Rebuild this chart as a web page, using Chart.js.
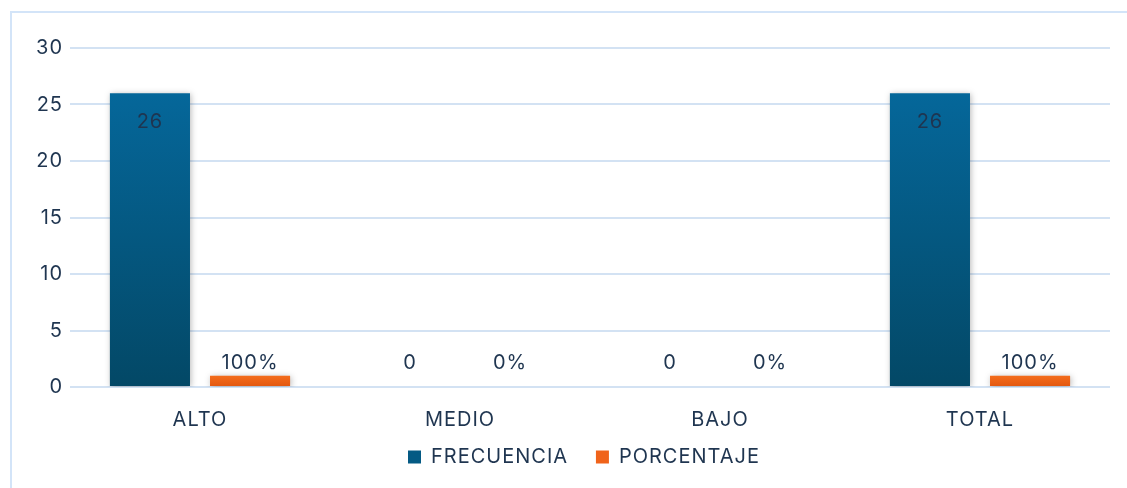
<!DOCTYPE html>
<html>
<head>
<meta charset="utf-8">
<script src="https://cdn.jsdelivr.net/npm/chart.js@4.4.1/dist/chart.umd.min.js"></script>
<style>
    html, body { margin: 0; padding: 0; background: #fff; overflow: hidden; }
    .frame {
        position: absolute; left: 10px; top: 11px; width: 2000px; height: 2000px;
        border-left: 2px solid #d3e4f8; border-top: 2px solid #d3e4f8;
    }
    .wrap { position: absolute; left: 0; top: 0; width: 1127px; height: 488px; }
</style>
</head>
<body>
<div class="frame"></div>
<div class="wrap"><canvas id="chart"></canvas></div>
<script>
    // Data
    const categories = ['ALTO', 'MEDIO', 'BAJO', 'TOTAL'];
    const frecuencia = [26, 0, 0, 26];
    const porcentaje = [1, 0, 0, 1]; // 100% = 1
    const yTicks = [0, 5, 10, 15, 20, 25, 30];

    const textColor = '#1f3550';
    const fontFamily = 'Inter, "Open Sans", Roboto, sans-serif';
    const fontSize = 20;

    // Vertical gradient for each bar, from bar top to baseline
    function barGradient(top, bottom) {
        return function(ctx) {
            const chart = ctx.chart;
            if (!chart.chartArea || ctx.type !== 'data') return top;
            const y = chart.scales.y;
            const y0 = y.getPixelForValue(0);
            const y1 = y.getPixelForValue(ctx.raw);
            if (Math.abs(y0 - y1) < 1) return top;
            const g = chart.ctx.createLinearGradient(0, y1, 0, y0);
            g.addColorStop(0, top);
            g.addColorStop(1, bottom);
            return g;
        };
    }

    // Wider text, closer to the original font
    const spacingPlugin = {
        id: 'letterSpacing',
        beforeUpdate(chart) { chart.ctx.letterSpacing = '1px'; },
        beforeDraw(chart) { chart.ctx.letterSpacing = '1px'; }
    };

    // The original chart box is wider than the window: centre the legend on it
    const legendPlace = {
        id: 'legendPlace',
        afterLayout(chart) {
            const lg = chart.legend;
            if (!lg) return;
            lg.left += 29;
            lg.right += 29;
            lg.top += 2;
            lg.bottom += 2;
        }
    };

    // Light shadow under the bars
    const shadowPlugin = {
        id: 'barShadow',
        beforeDatasetsDraw(chart) {
            const c = chart.ctx;
            c.save();
            c.shadowColor = 'rgba(0, 0, 0, 0.28)';
            c.shadowBlur = 6;
            c.shadowOffsetX = 1;
            c.shadowOffsetY = 1;
        },
        afterDatasetsDraw(chart) {
            chart.ctx.restore();
        }
    };

    // Value labels (inside top for tall bars, above for short ones)
    const labelPlugin = {
        id: 'valueLabels',
        afterDatasetsDraw(chart) {
            const c = chart.ctx;
            const base = chart.scales.y.getPixelForValue(0);
            c.save();
            c.font = fontSize + 'px ' + fontFamily;
            c.fillStyle = textColor;
            c.textAlign = 'center';
            c.textBaseline = 'middle';
            chart.data.datasets.forEach((ds, i) => {
                chart.getDatasetMeta(i).data.forEach((bar, j) => {
                    const v = ds.data[j];
                    const text = i === 1 ? Math.round(v * 100) + '%' : String(v);
                    let y;
                    if (base - bar.y > 40) {
                        y = bar.y + 29;
                    } else {
                        y = Math.min(bar.y - 13, base - 24);
                    }
                    c.fillText(text, bar.x, y);
                });
            });
            c.restore();
        }
    };

    new Chart(document.getElementById('chart'), {
        type: 'bar',
        data: {
            labels: categories,
            datasets: [
                {
                    label: 'FRECUENCIA',
                    data: frecuencia,
                    backgroundColor: barGradient('#05679a', '#034866'),
                    barPercentage: 0.8,
                    categoryPercentage: 0.77
                },
                {
                    label: 'PORCENTAJE',
                    data: porcentaje,
                    backgroundColor: barGradient('#f46d1c', '#e2570f'),
                    barPercentage: 0.8,
                    categoryPercentage: 0.77
                }
            ]
        },
        options: {
            responsive: true,
            maintainAspectRatio: false,
            animation: false,
            layout: { padding: { left: 0, right: 17, top: 48, bottom: 13 } },
            plugins: {
                tooltip: { enabled: false },
                legend: {
                    position: 'bottom',
                    labels: {
                        color: textColor,
                        font: { family: fontFamily, size: fontSize },
                        boxWidth: 13,
                        boxHeight: 13,
                        padding: 8,
                        generateLabels(chart) {
                            const n = chart.data.datasets.length;
                            return chart.data.datasets.map((ds, i) => ({
                                // wider gap between the two entries
                                text: i < n - 1 ? ds.label + '\u00a0\u00a0\u00a0' : ds.label,
                                fillStyle: i === 0 ? '#045a84' : '#f0631a',
                                strokeStyle: 'transparent',
                                lineWidth: 0,
                                datasetIndex: i,
                                fontColor: textColor
                            }));
                        }
                    }
                }
            },
            scales: {
                x: {
                    afterFit(scale) { scale.height = 50; },
                    grid: { display: false, drawTicks: false },
                    border: { display: false },
                    ticks: {
                        color: textColor,
                        font: { family: fontFamily, size: fontSize },
                        padding: 21
                    }
                },
                y: {
                    min: 0,
                    max: 30,
                    afterFit(scale) { scale.width = 70; },
                    afterBuildTicks(scale) { scale.ticks = yTicks.map(v => ({ value: v })); },
                    grid: { color: '#d3e2f3', lineWidth: 2, drawTicks: false },
                    border: { display: false },
                    ticks: {
                        color: textColor,
                        font: { family: fontFamily, size: fontSize },
                        padding: 7
                    }
                }
            }
        },
        plugins: [spacingPlugin, legendPlace, shadowPlugin, labelPlugin]
    });
</script>
</body>
</html>
